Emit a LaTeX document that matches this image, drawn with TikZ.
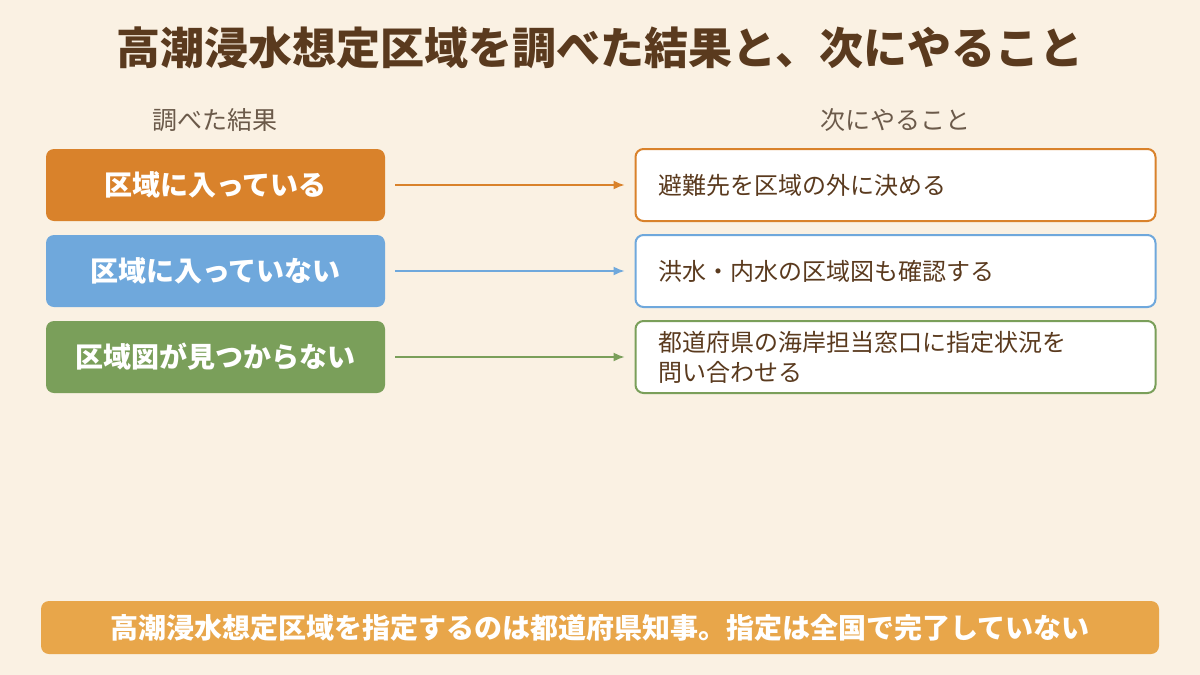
\documentclass[tikz,border=0pt]{standalone}
\usepackage{fontspec}
\setmainfont{Noto Sans CJK JP}
\usetikzlibrary{arrows.meta}
\definecolor{bg}{HTML}{FAF1E3}
\definecolor{ttl}{HTML}{5A3A1E}
\definecolor{hd}{HTML}{6B5A4A}
\definecolor{cor}{HTML}{D9822B}
\definecolor{cbl}{HTML}{6FA8DC}
\definecolor{cgr}{HTML}{7A9F5A}
\definecolor{cbar}{HTML}{E8A64A}
\begin{document}
\begin{tikzpicture}[x=1pt,y=-1pt,
 lbox/.style={rounded corners=8pt,minimum width=339pt,minimum height=72pt,text=white,font=\fontsize{28}{32}\selectfont\bfseries,inner sep=0pt},
 rbox/.style={rounded corners=8pt,draw,line width=2pt,fill=white,minimum width=520pt,minimum height=72pt,text=ttl,font=\fontsize{24}{30}\selectfont,align=left,text width=474pt,inner sep=0pt},
 arr/.style={line width=1.5pt,-{Latex[length=11pt,width=9pt]}}]
\fill[bg] (0,0) rectangle (1200,675);
\node[text=ttl,font=\fontsize{44}{48}\selectfont\bfseries] (t) at (600,48) {高潮浸水想定区域を調べた結果と、次にやること};
\node[text=hd,font=\fontsize{25}{30}\selectfont] (h1) at (215,120) {調べた結果};
\node[text=hd,font=\fontsize{25}{30}\selectfont] (h2) at (895,120) {次にやること};
\node[lbox,fill=cor] (a1) at (215.5,185) {区域に入っている};
\node[lbox,fill=cbl] (a2) at (215.5,271) {区域に入っていない};
\node[lbox,fill=cgr] (a3) at (215.5,357) {区域図が見つからない};
\node[rbox,draw=cor] (b1) at (895.5,185) {避難先を区域の外に決める};
\node[rbox,draw=cbl] (b2) at (895.5,271) {洪水・内水の区域図も確認する};
\node[rbox,draw=cgr] (b3) at (895.5,357) {都道府県の海岸担当窓口に指定状況を\\問い合わせる};
\draw[arr,cor] ([xshift=10pt]a1.east) -- ([xshift=-10pt]b1.west);
\draw[arr,cbl] ([xshift=10pt]a2.east) -- ([xshift=-10pt]b2.west);
\draw[arr,cgr] ([xshift=10pt]a3.east) -- ([xshift=-10pt]b3.west);
\node[fill=cbar,rounded corners=8pt,minimum width=1118pt,minimum height=53pt,text=white,font=\fontsize{28}{32}\selectfont\bfseries] (bar) at (600,627.5) {高潮浸水想定区域を指定するのは都道府県知事。指定は全国で完了していない};
\end{tikzpicture}
\end{document}
